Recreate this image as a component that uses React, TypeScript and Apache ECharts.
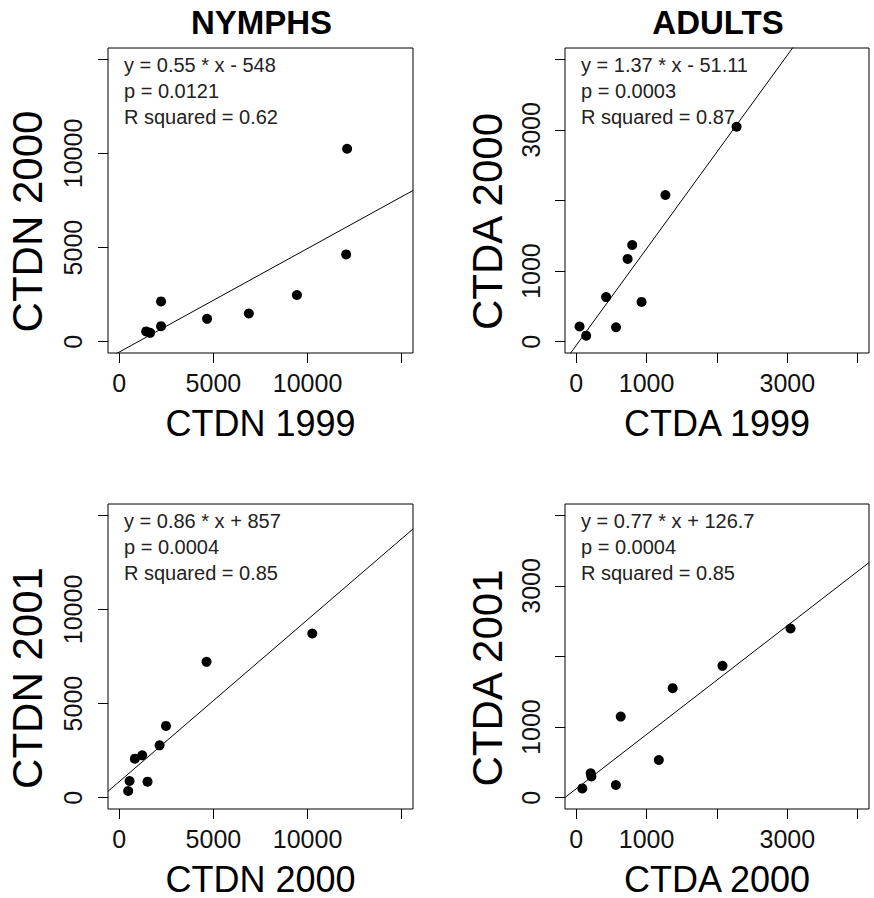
import React, { useEffect, useRef } from "react";
import * as echarts from "echarts";

// ---- Data ----
// Nymph densities (CTDN) per site, for 1999, 2000, 2001
const ctdn1999 = [12100, 12050, 9435, 2218, 4662, 6880, 2218, 1426, 1637];
const ctdn2000 = [10250, 4635, 2480, 2140, 1215, 1500, 825, 545, 470];
const ctdn2001 = [8723, 7218, 3814, 2782, 2250, 851, 2074, 888, 356];

// Adult densities (CTDA) per site, for 1999, 2000, 2001
const ctda1999 = [2278, 1267, 795, 730, 424, 928, 565, 47, 141];
const ctda2000 = [3045, 2078, 1370, 1173, 632, 563, 205, 215, 86];
const ctda2001 = [2397, 1868, 1551, 534, 1149, 180, 345, 300, 132];

// Regression coefficients [slope, intercept]
const fitNymph9900 = [0.55, -548];
const fitAdult9900 = [1.37, -51.11];
const fitNymph0001 = [0.86, 857];
const fitAdult0001 = [0.77, 126.7];

// Annotation texts
const textNymph9900 = ["y = 0.55 * x - 548", "p = 0.0121", "R squared = 0.62"];
const textAdult9900 = ["y = 1.37 * x - 51.11", "p = 0.0003", "R squared = 0.87"];
const textNymph0001 = ["y = 0.86 * x + 857", "p = 0.0004", "R squared = 0.85"];
const textAdult0001 = ["y = 0.77 * x + 126.7", "p = 0.0004", "R squared = 0.85"];

// Axis ticks and labels
const nymphTicks = [0, 5000, 10000, 15000];
const nymphTickLabels = [0, 5000, 10000];
const adultTicks = [0, 1000, 2000, 3000, 4000];
const adultTickLabels = [0, 1000, 3000];
const nymphLimits = [0, 15000];
const adultLimits = [0, 4000];

const columnTitles = ["NYMPHS", "ADULTS"];

const FONT = '"Liberation Sans", Arial, Helvetica, sans-serif';

function zip(a: number[], b: number[]) {
  return a.map((v, i) => [v, b[i]]);
}

export default function App() {
  const ref = useRef<HTMLDivElement>(null);

  useEffect(() => {
    document.body.style.margin = "0";
    if (!ref.current) return;
    const chart = echarts.init(ref.current, null, { renderer: "svg" });

    const ext = (lim: number[]) => {
      const r = lim[1] - lim[0];
      return [lim[0] - 0.04 * r, lim[1] + 0.04 * r];
    };

    const panels = [
      {
        grid: { left: 108, top: 48, width: 305, height: 305 },
        x: ctdn1999, y: ctdn2000, fit: fitNymph9900, txt: textNymph9900,
        lim: nymphLimits, ticks: nymphTicks, labels: nymphTickLabels,
        xName: "CTDN 1999", yName: "CTDN 2000", yTitleX: 27, yMargin: 23,
      },
      {
        grid: { left: 565, top: 48, width: 304, height: 305 },
        x: ctda1999, y: ctda2000, fit: fitAdult9900, txt: textAdult9900,
        lim: adultLimits, ticks: adultTicks, labels: adultTickLabels,
        xName: "CTDA 1999", yName: "CTDA 2000", yTitleX: 487, yMargin: 22,
      },
      {
        grid: { left: 108, top: 504, width: 305, height: 306 },
        x: ctdn2000, y: ctdn2001, fit: fitNymph0001, txt: textNymph0001,
        lim: nymphLimits, ticks: nymphTicks, labels: nymphTickLabels,
        xName: "CTDN 2000", yName: "CTDN 2001", yTitleX: 27, yMargin: 23,
      },
      {
        grid: { left: 565, top: 504, width: 304, height: 306 },
        x: ctda2000, y: ctda2001, fit: fitAdult0001, txt: textAdult0001,
        lim: adultLimits, ticks: adultTicks, labels: adultTickLabels,
        xName: "CTDA 2000", yName: "CTDA 2001", yTitleX: 487, yMargin: 22,
      },
    ];

    const grids: any[] = [];
    const xAxes: any[] = [];
    const yAxes: any[] = [];
    const series: any[] = [];
    const graphics: any[] = [];

    panels.forEach((p, i) => {
      const [lo, hi] = ext(p.lim);
      grids.push({
        ...p.grid,
        show: true,
        borderColor: "#000",
        borderWidth: 1,
        backgroundColor: "transparent",
        containLabel: false,
      });
      const common = {
        type: "value",
        gridIndex: i,
        min: lo,
        max: hi,
        splitLine: { show: false },
        axisLine: { show: false, onZero: false },
        axisTick: {
          show: true,
          length: 10,
          customValues: p.ticks,
          lineStyle: { color: "#000", width: 1 },
        },
        nameLocation: "middle",
      };
      xAxes.push({
        ...common,
        axisLabel: {
          customValues: p.labels,
          formatter: (v: number) => String(v),
          fontSize: 25,
          color: "#111",
          fontFamily: FONT,
          margin: 17,
        },
        name: p.xName,
        nameGap: 52,
        nameTextStyle: { fontSize: 36, color: "#000", fontFamily: FONT },
      });
      yAxes.push({
        ...common,
        axisLabel: {
          customValues: p.labels,
          formatter: (v: number) => String(v),
          fontSize: 25,
          color: "#111",
          fontFamily: FONT,
          rotate: 90,
          margin: p.yMargin,
        },
      });
      series.push({
        type: "scatter",
        xAxisIndex: i,
        yAxisIndex: i,
        data: zip(p.x, p.y),
        symbol: "circle",
        symbolSize: 10,
        itemStyle: { color: "#000", opacity: 1 },
        silent: true,
      });
      const [a, b] = p.fit;
      series.push({
        type: "line",
        xAxisIndex: i,
        yAxisIndex: i,
        data: [
          [lo, a * lo + b],
          [hi, a * hi + b],
        ],
        showSymbol: false,
        symbol: "none",
        clip: true,
        lineStyle: { color: "#000", width: 1 },
        silent: true,
      });
      p.txt.forEach((t, k) => {
        graphics.push({
          type: "text",
          x: p.grid.left + 16,
          y: p.grid.top + 17 + k * 26,
          style: {
            text: t,
            fontSize: 20,
            fontFamily: FONT,
            fill: "#222",
            textAlign: "left",
            textVerticalAlign: "middle",
          },
        });
      });
      // rotated y-axis title
      graphics.push({
        type: "text",
        x: p.yTitleX,
        y: p.grid.top + p.grid.height / 2 + 21,
        rotation: Math.PI / 2,
        style: {
          text: p.yName,
          fontSize: 42,
          fontFamily: FONT,
          fill: "#000",
          textAlign: "center",
          textVerticalAlign: "middle",
        },
      });
    });

    columnTitles.forEach((t, i) => {
      const g = panels[i].grid;
      graphics.push({
        type: "text",
        x: g.left + g.width / 2 + 1,
        y: 22,
        style: {
          text: t,
          fontSize: 33,
          fontWeight: "bold",
          fontFamily: FONT,
          fill: "#000",
          textAlign: "center",
          textVerticalAlign: "middle",
        },
      });
    });

    chart.setOption({
      animation: false,
      backgroundColor: "#fff",
      grid: grids,
      xAxis: xAxes,
      yAxis: yAxes,
      series,
      graphic: graphics,
    });

    return () => chart.dispose();
  }, []);

  return (
    <div
      ref={ref}
      style={{ position: "absolute", left: 0, top: 0, width: 874, height: 898 }}
    />
  );
}
